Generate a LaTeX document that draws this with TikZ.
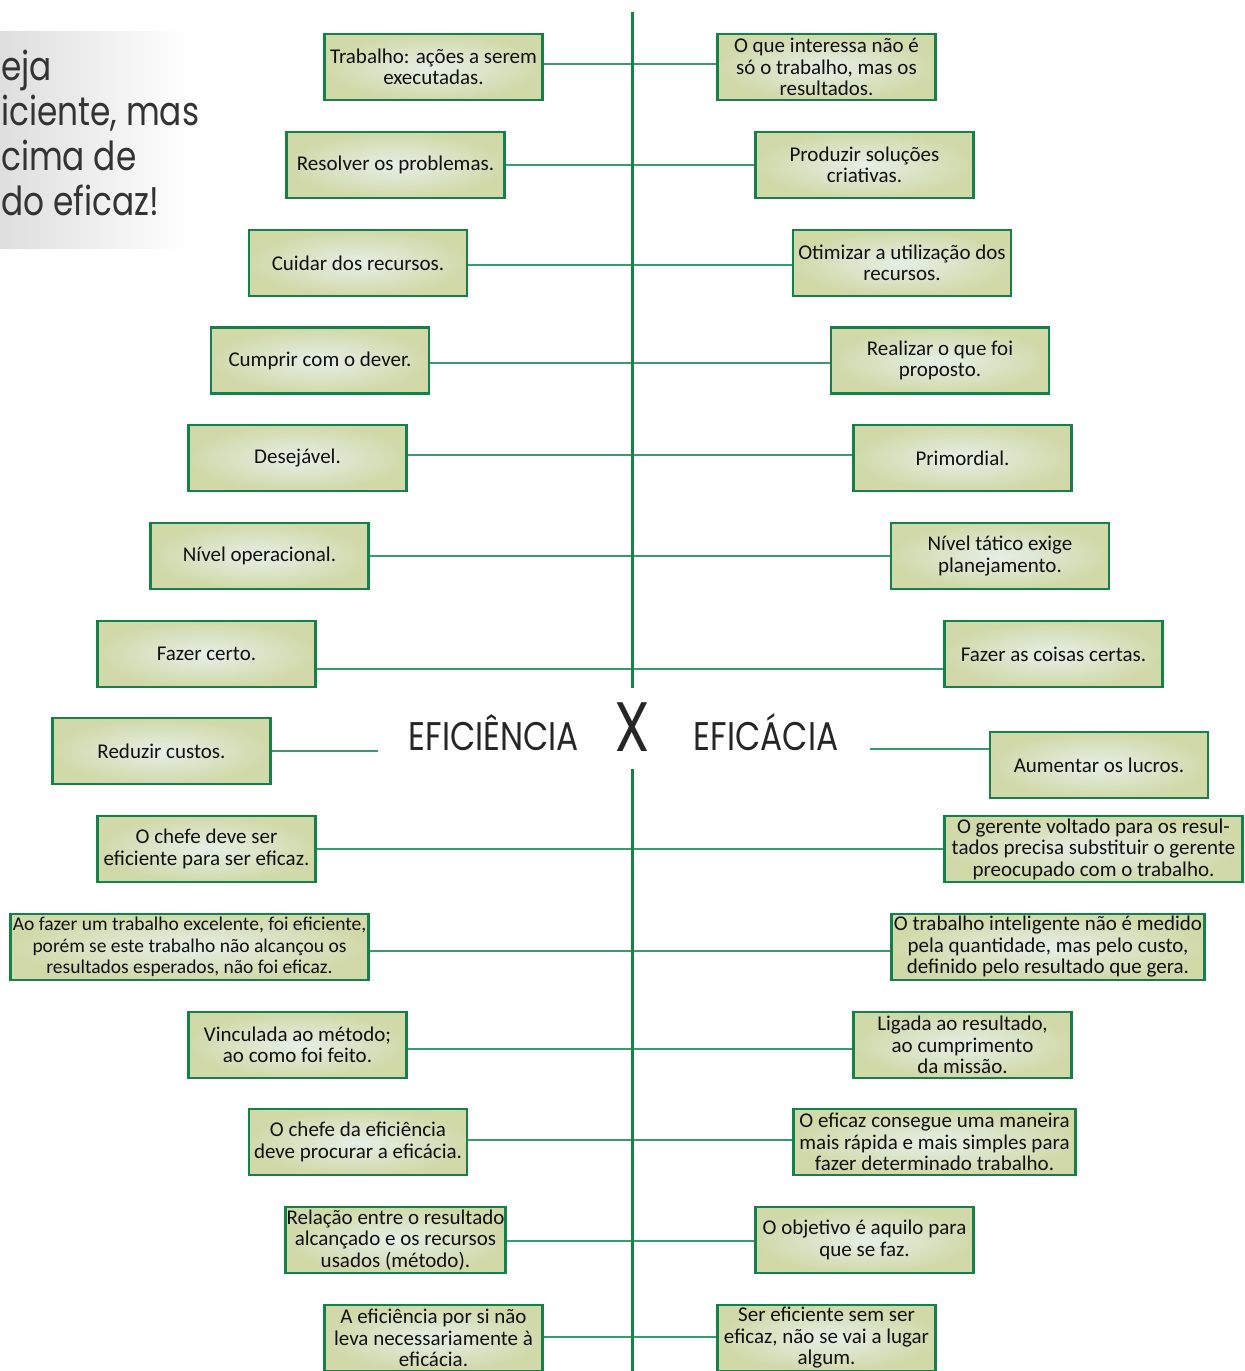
\documentclass[tikz,border=0pt]{standalone}
\usepackage{fontspec}
\setmainfont{Carlito}
\newfontfamily\titulofonte{Poppins}[FakeStretch=0.82]
\definecolor{verdeborda}{HTML}{15804A}
\definecolor{verdelinha}{HTML}{3B9A6B}
\definecolor{verdeeixo}{HTML}{1B8148}
\definecolor{centrocx}{HTML}{E5EFE6}
\definecolor{bordacx}{HTML}{D1D9A9}
\definecolor{textocx}{HTML}{111111}
\begin{document}
\begin{tikzpicture}[
        x=1pt, y=-1pt,
        caixa/.style={rectangle, draw=verdeborda, line width=2.5pt, inner color=centrocx, outer color=bordacx,
            minimum width=218pt, minimum height=66pt, inner sep=1pt, align=center, text=textocx,
            font=\fontsize{21}{21.5}\selectfont},
        liga/.style={draw=verdelinha, line width=2pt},
        eixo/.style={draw=verdeeixo, line width=3pt},
        titulo/.style={font=\titulofonte\fontsize{40}{45}\selectfont, text=black!85, inner sep=0pt, anchor=base},
        frase/.style={font=\titulofonte\fontsize{40}{45}\selectfont, text=black!80, inner sep=0pt, anchor=base west}
    ]
    \useasboundingbox (0,0) rectangle (1245,1371);

    % faixa cinza com a frase
    \shade[left color=black!13, right color=white] (0,31) rectangle (190,248);
    \node[frase] (fr1) at (1,80) {eja};
    \node[frase] (fr2) at (1,125) {iciente, mas};
    \node[frase] (fr3) at (1,170) {cima de};
    \node[frase] (fr4) at (1,215) {do eficaz!};

    % lado da eficiencia
    \node[caixa] (ef1) at (433.5,67) {Trabalho: ações a serem\\executadas.};
    \node[caixa] (ef2) at (395.5,165) {Resolver os problemas.};
    \node[caixa] (ef3) at (358,263) {Cuidar dos recursos.};
    \node[caixa] (ef4) at (320,360.5) {Cumprir com o dever.};
    \node[caixa] (ef5) at (297.5,458) {Desejável.};
    \node[caixa] (ef6) at (259.5,556) {Nível operacional.};
    \node[caixa] (ef7) at (206.5,654) {Fazer certo.};
    \node[caixa] (ef8) at (161.5,751) {Reduzir custos.};
    \node[caixa] (ef9) at (206.5,849) {O chefe deve ser\\eficiente para ser eficaz.};
    \node[caixa, minimum width=358pt, font=\fontsize{19.5}{21.5}\selectfont] (ef10) at (189.5,947)
        {Ao fazer um trabalho excelente, foi eficiente,\\porém se este trabalho não alcançou os\\resultados esperados, não foi eficaz.};
    \node[caixa] (ef11) at (297.5,1045) {Vinculada ao método;\\ao como foi feito.};
    \node[caixa] (ef12) at (358,1142) {O chefe da eficiência\\deve procurar a eficácia.};
    \node[caixa] (ef13) at (395.5,1240) {Relação entre o resultado\\alcançado e os recursos\\usados (método).};
    \node[caixa] (ef14) at (433.5,1338) {A eficiência por si não\\leva necessariamente à\\eficácia.};

    % lado da eficacia
    \node[caixa] (ec1) at (826.5,67) {O que interessa não é\\só o trabalho, mas os\\resultados.};
    \node[caixa] (ec2) at (864.5,165) {Produzir soluções\\criativas.};
    \node[caixa] (ec3) at (902,263) {Otimizar a utilização dos\\recursos.};
    \node[caixa] (ec4) at (940,360.5) {Realizar o que foi\\proposto.};
    \node[caixa] (ec5) at (962.5,458) {Primordial.};
    \node[caixa] (ec6) at (1000,556) {Nível tático exige\\planejamento.};
    \node[caixa] (ec7) at (1053.5,654) {Fazer as coisas certas.};
    \node[caixa] (ec8) at (1099,765) {Aumentar os lucros.};
    \node[caixa, minimum width=298pt] (ec9) at (1093.5,849)
        {O gerente voltado para os resul-\\tados precisa substituir o gerente\\preocupado com o trabalho.};
    \node[caixa, minimum width=313pt] (ec10) at (1048,947)
        {O trabalho inteligente não é medido\\pela quantidade, mas pelo custo,\\definido pelo resultado que gera.};
    \node[caixa] (ec11) at (962.5,1045) {Ligada ao resultado,\\ao cumprimento\\da missão.};
    \node[caixa, minimum width=282pt] (ec12) at (934.5,1142)
        {O eficaz consegue uma maneira\\mais rápida e mais simples para\\fazer determinado trabalho.};
    \node[caixa] (ec13) at (864.5,1240) {O objetivo é aquilo para\\que se faz.};
    \node[caixa] (ec14) at (826.5,1338) {Ser eficiente sem ser\\eficaz, não se vai a lugar\\algum.};

    % titulo central
    \node[titulo] (tef) at (494,750) {EFICIÊNCIA};
    \node[titulo, font=\titulofonte\fontsize{70}{70}\selectfont] (tx) at (632,751) {X};
    \node[titulo] (tec) at (766,750) {EFICÁCIA};

    % ligacoes (linha / deslocamento vertical)
    \foreach \i/\d in {1/3,2/0,3/-2,4/-2.5,5/3,6/0,7/-15,9/0,10/-4,11/-4,12/2,13/-1,14/1}
        \draw[liga] ([yshift=\d pt]ef\i.east) -- ([yshift=\d pt]ec\i.west);
    \coordinate (gapE) at (378,751);
    \coordinate (gapD) at (870,749);
    \draw[liga] (ef8.east) -- (gapE);
    \draw[liga] (gapD) -- (gapD -| ec8.west);

    % eixo vertical
    \coordinate (eixoA) at (632,12);
    \coordinate (eixoB) at (632,688);
    \coordinate (eixoC) at (632,769);
    \coordinate (eixoD) at (632,1371);
    \draw[eixo] (eixoA) -- (eixoB);
    \draw[eixo] (eixoC) -- (eixoD);
\end{tikzpicture}
\end{document}
